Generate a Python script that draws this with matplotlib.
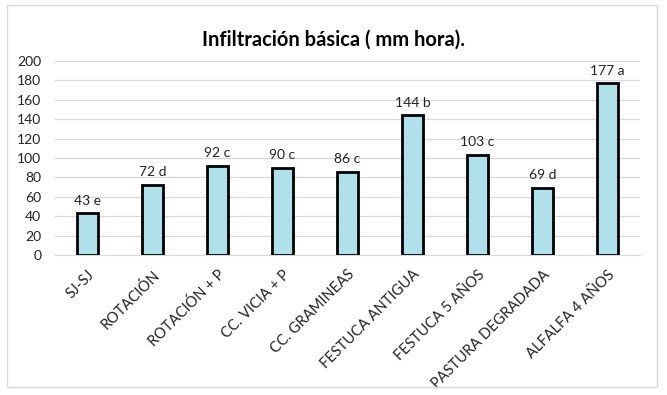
import matplotlib
matplotlib.use('Agg')
import matplotlib.pyplot as plt
from matplotlib.patches import Rectangle

plt.rcParams['font.family'] = ['Lato', 'DejaVu Sans']

# data
categories = ['SJ-SJ', 'ROTACIÓN', 'ROTACIÓN + P', 'CC. VICIA + P', 'CC. GRAMINEAS',
              'FESTUCA ANTIGUA', 'FESTUCA 5 AÑOS', 'PASTURA DEGRADADA', 'ALFALFA 4 AÑOS']
values = [43, 72, 92, 90, 86, 144, 103, 69, 177]
letters = ['e', 'd', 'c', 'c', 'c', 'b', 'c', 'd', 'a']
y_ticks = [0, 20, 40, 60, 80, 100, 120, 140, 160, 180, 200]

fig = plt.figure(figsize=(6.67, 3.95), dpi=100)
fig.patch.set_facecolor('white')
# light gray chart border
fig.add_artist(Rectangle((0.0105, 0.0203), 0.9745, 0.967, transform=fig.transFigure,
                         fill=False, edgecolor='#d9d9d9', linewidth=1))

ax = fig.add_axes([0.0825, 0.3544, 0.877, 0.4912])
x = range(len(categories))
bars = ax.bar(x, values, width=0.32, color='#b0e0e9', edgecolor='black', linewidth=2, zorder=3)

for xi, v, l in zip(x, values, letters):
    ax.text(xi, v + 7, f'{v} {l}', ha='center', va='bottom', fontsize=10, color='#222222')

ax.set_xlim(-0.5, len(categories) - 0.5)
ax.set_ylim(0, 200)
ax.set_yticks(y_ticks)
ax.grid(axis='y', color='#d9d9d9', linewidth=0.9, zorder=0)
for s in ['top', 'right', 'left']:
    ax.spines[s].set_visible(False)
ax.spines['bottom'].set_color('#d9d9d9')
ax.tick_params(axis='both', length=0, labelsize=10, colors='#222222')
ax.tick_params(axis='y', pad=10)
ax.tick_params(axis='x', pad=9)
ax.set_xticks(list(x))
ax.set_xticklabels(categories, rotation=45, ha='right', rotation_mode='anchor', fontsize=10.5)

fig.text(0.5, 0.9, 'Infiltración básica ( mm hora).', ha='center', va='center',
         fontsize=14.5, fontweight='bold', color='black')

fig.savefig('out.png', dpi=100)
